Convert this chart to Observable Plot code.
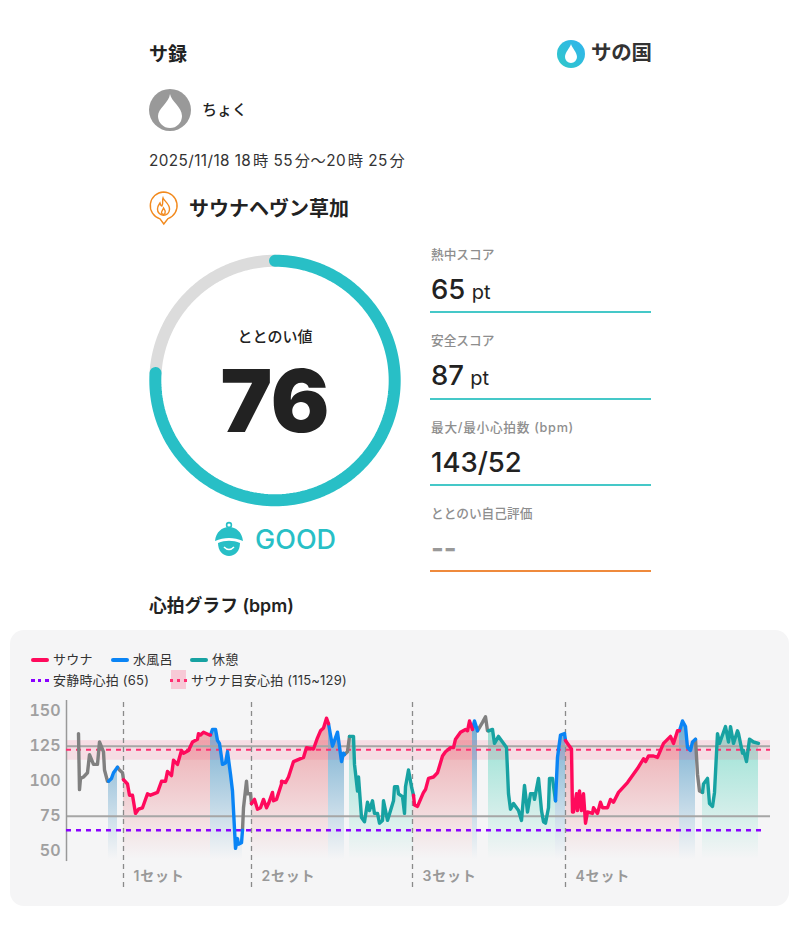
<!DOCTYPE html>
<html lang="ja"><head><meta charset="utf-8">
<script src="https://cdn.jsdelivr.net/npm/d3@7"></script>
<script src="https://cdn.jsdelivr.net/npm/@observablehq/plot@0.6"></script>
<style>
html,body{margin:0;padding:0;background:#fff}
body{width:800px;height:947px;position:relative;overflow:hidden;font-family:Inter,"Noto Sans CJK JP",sans-serif;color:#222}
.a{position:absolute;white-space:nowrap;line-height:1}
.lab{font-size:12.7px;color:#8e8e8e;left:431px;font-weight:500}
.val{left:431px;font-size:27.5px;font-weight:500;color:#222}
.val span{font-size:20px;font-weight:400;margin-left:-1px}
.rule{position:absolute;left:430px;width:221px;height:1.5px;background:#45c8c8}
#card{position:absolute;left:10px;top:630px;width:779px;height:276px;background:#f5f5f6;border-radius:14px}
#chart{position:absolute;left:10px;top:690px}
#gauge{position:absolute;left:139.5px;top:245px}
.leg{font-size:13px;color:#333;letter-spacing:.2px}
.sw{position:absolute;height:4px;border-radius:2px}
.dot{position:absolute;height:0;border-top:3px dotted}
svg{overflow:visible}
.setlab text{letter-spacing:.8px}
.k{margin-left:1.8px}
</style></head><body>
<div class="a" style="left:149px;top:45px;font-size:19px;font-weight:600">サ録</div>
<svg class="a" style="left:557px;top:40px" width="28" height="28" viewBox="0 0 28 28">
<defs><linearGradient id="lg" x1="0" y1="1" x2="1" y2="0"><stop offset="0" stop-color="#2fc8c8"/><stop offset="1" stop-color="#30b4ee"/></linearGradient></defs>
<circle cx="14" cy="14" r="14" fill="url(#lg)"/><path d="M14 4C15 8 20 12 20 17A6 6 0 0 1 8 17C8 12 13 8 14 4Z" fill="#fff"/></svg>
<div class="a" style="left:591px;top:43px;font-size:20.5px;font-weight:600;color:#333;letter-spacing:-.2px">サの国</div>

<svg class="a" style="left:149px;top:89px" width="42" height="42" viewBox="0 0 42 42"><circle cx="21" cy="21" r="21" fill="#999"/><path d="M21 5C22 12 33 18 33 27A12 12 0 0 1 9 27C9 19 20 14 21 5Z" fill="#fff"/></svg>
<div class="a" style="left:202px;top:102px;font-size:15px;font-weight:500">ちょく</div>
<div class="a" style="left:149px;top:153px;font-size:15.3px;color:#333;letter-spacing:.42px">2025/11/18 18<span class="k">時</span> 55<span class="k">分</span>〜20<span class="k">時</span> 25<span class="k">分</span></div>
<svg class="a" style="left:149px;top:191px" width="30" height="36" viewBox="0 0 30 36" fill="none" stroke="#f28a1e" stroke-width="1.4"><path d="M14.5 1A13.7 13.7 0 0 1 19 27.6L14.8 33L11 27.8A13.7 13.7 0 0 1 14.5 1Z"/><path d="M14 7C15 10 21 13 20.5 18.5A6 6 0 0 1 8.5 18C8.5 15 10 13.5 11 12C11.5 14 12 15 13 15C14.5 12.5 13 10 14 7Z"/><path d="M14.500 17C16 19 17 20 16 22.500A2 2 0 0 1 12.500 22C12.500 20 14 19 14.500 17Z"/></svg>
<div class="a" style="left:189px;top:199px;font-size:20px;font-weight:600">サウナヘヴン草加</div>

<div id="gauge"></div>
<svg class="a" style="left:212px;top:521px" width="34" height="36" viewBox="0 0 34 36"><circle cx="17" cy="4" r="2.4" fill="none" stroke="#28bfc6" stroke-width="1.6"/><path d="M3 20C4 11 10 6 17 6C24 6 30 11 31 20C22 16 12 16 3 20Z" fill="#28bfc6"/><path d="M6 22C13 19 21 19 28 22C28 30 23 35 17 35C11 35 6 30 6 22Z" fill="#28bfc6"/><path d="M12 26Q17 31 22 26" fill="none" stroke="#fff" stroke-width="1.6"/></svg>
<div class="a" style="left:255px;top:526px;font-size:27px;font-weight:500;color:#28bfc6">GOOD</div>

<div class="a lab" style="top:249px">熱中スコア</div>
<div class="a val" style="top:276px">65 <span>pt</span></div><div class="rule" style="top:311px"></div>
<div class="a lab" style="top:335px">安全スコア</div>
<div class="a val" style="top:362px">87 <span>pt</span></div><div class="rule" style="top:398px"></div>
<div class="a lab" style="top:422px;letter-spacing:.7px">最大/最小心拍数 (bpm)</div>
<div class="a val" style="top:449px">143/52</div><div class="rule" style="top:484px"></div>
<div class="a lab" style="top:508px">ととのい自己評価</div>
<div class="a val" style="top:535px;color:#999;font-weight:700">--</div><div class="rule" style="top:570px;background:#ef8a3c"></div>

<div class="a" style="left:149px;top:597px;font-size:17.8px;font-weight:600">心拍グラフ (bpm)</div>
<div id="card"></div>
<div class="sw" style="left:31px;top:658px;width:18px;background:#ff0a5c"></div><div class="a leg" style="left:53px;top:653px">サウナ</div>
<div class="sw" style="left:111px;top:658px;width:18px;background:#0a84f5"></div><div class="a leg" style="left:133px;top:653px">水風呂</div>
<div class="sw" style="left:190px;top:658px;width:18px;background:#17a2a2"></div><div class="a leg" style="left:212px;top:653px">休憩</div>
<div class="dot" style="left:31px;top:679px;width:18px;border-color:#8a00ff"></div><div class="a leg" style="left:53px;top:674px">安静時心拍 (65)</div>
<div class="a" style="left:171px;top:670px;width:15px;height:19px;background:#f7c9d6"></div>
<div class="dot" style="left:170px;top:679px;width:17px;border-color:#ff2f72"></div><div class="a leg" style="left:191px;top:674px">サウナ目安心拍 (115~129)</div>
<div id="chart"></div>

<script>
// t = sample number from the start of the recording, bpm = heart rate
const gray1 = [[0,134],[1,94],[2,102],[5,103],[9,106],[11,119],[15,112],[19,112],[21,128],[25,121],[26,108],[29,100],[30,100]];
const water1 = [[30,100],[33,102],[35,106],[39,110]];
const gray2 = [[39,110],[41,108],[44,106],[45,101]];
const sauna1 = [[45,101],[49,98],[51,90],[54,90],[57,77],[60,80],[64,81],[69,91],[72,90],[79,92],[83,100],[87,100],[89,107],[93,104],[95,115],[99,112],[103,122],[105,120],[110,122],[114,128],[119,130],[120,134],[122,133],[125,135],[131,133],[132,133]];
const water2 = [[132,133],[134,137],[137,137],[139,129],[141,127],[144,112],[147,113],[149,121],[152,105],[154,93],[157,52],[159,59],[160,55],[163,56],[164,65]];
const gray3 = [[164,65],[165,81],[168,100],[169,91],[172,91],[173,84]];
const sauna2 = [[173,84],[176,87],[179,80],[182,81],[185,87],[188,81],[190,84],[194,92],[195,86],[198,87],[203,98],[203,100],[207,99],[210,103],[215,114],[225,117],[228,124],[235,123],[239,131],[242,136],[245,138],[248,145],[250,141]];
const water3 = [[250,141],[254,125],[255,127],[259,135],[263,114],[265,120],[266,119]];
const gray4 = [[266,119],[269,121],[271,132]];
const rest1 = [[271,132],[275,132],[276,112],[279,93],[280,103],[283,74],[286,71],[289,85],[291,79],[294,86],[296,77],[299,77],[301,70],[304,72],[305,86],[309,72],[315,86],[316,96],[319,96],[320,91],[324,89],[326,77],[327,96],[330,108],[333,96],[335,90]];
const sauna3 = [[335,90],[336,83],[339,82],[345,92],[347,94],[350,102],[355,103],[359,106],[364,118],[367,121],[372,124],[375,124],[377,130],[382,135],[387,137],[389,136],[391,143],[394,137]];
const water4 = [[394,137],[396,143],[399,136]];
const gray5 = [[399,136],[404,142],[407,146],[409,136],[410,136]];
const rest2 = [[410,136],[414,137],[416,127],[420,132],[424,128],[428,124],[430,91],[432,80],[435,84],[440,79],[443,72],[446,97],[449,78],[452,91],[455,91],[456,87],[460,102],[463,79],[465,71],[467,70],[470,81],[471,102],[474,102],[477,86]];
const water5 = [[477,86],[479,117],[482,133],[486,134],[487,129]];
const sauna4 = [[487,129],[489,127],[493,123],[494,78],[495,78],[498,91],[499,79],[501,93],[503,79],[505,91],[507,70],[509,78],[514,77],[515,81],[519,77],[522,85],[524,81],[529,81],[532,87],[535,85],[540,92],[549,99],[559,109],[565,116],[567,114],[570,118],[575,118],[579,117],[585,127],[592,132],[595,127],[599,136],[601,136]];
const water6 = [[601,136],[604,143],[607,139],[609,124],[612,122],[614,128],[617,130]];
const gray6 = [[617,130],[619,105],[621,93],[624,92]];
const rest3 = [[624,92],[625,98],[629,102],[631,84],[634,82],[636,92],[639,134],[641,127],[644,133],[647,139],[650,128],[652,139],[655,127],[659,136],[660,134],[664,120],[665,122],[668,114],[671,130],[675,128],[680,127]];

const saunaSegs = [sauna1,sauna2,sauna3,sauna4];
const waterSegs = [water1,water2,water3,water4,water5,water6];
const restSegs = [rest1,rest2,rest3];
const graySegs = [gray1,gray2,gray3,gray4,gray5,gray6];
const setStarts = [45,173,334,487];
const setLabels = ["1セット","2セット","3セット","4セット"];
const yTicks = [50,75,100,125,150];
const restingHR = 65, guideLow = 115, guideHigh = 129, guideMid = 122.5;
const xEnd = 692, xStart = -12;
const score = 76;

const row = ([t,bpm]) => ({t,bpm});
const areas = (segs,fill) => segs.map(s => Plot.areaY(s.map(row),{x:"t",y1:42.6,y2:"bpm",fill}));
const lines = (segs,stroke) => segs.map(s => Plot.line(s.map(row),{x:"t",y:"bpm",stroke,strokeWidth:3.4,strokeLinejoin:"round",strokeLinecap:"round"}));

const plot = Plot.plot({
  width:780,height:210,marginLeft:56,marginRight:20,marginTop:10,marginBottom:13,
  style:{background:"transparent",fontFamily:'Inter,"Noto Sans CJK JP",sans-serif',overflow:"visible"},
  x:{domain:[xStart,xEnd],axis:null},
  y:{domain:[24.07,157.64]},
  marks:[
    ...areas(saunaSegs,"url(#gSauna)"),
    ...areas(waterSegs,"url(#gWater)"),
    ...areas(restSegs,"url(#gRest)"),
    Plot.rect([{}],{x1:xStart,x2:xEnd,y1:guideLow,y2:guideHigh,fill:"#ff3c6e",fillOpacity:.13}),
    Plot.ruleY([75,125],{x1:xStart,x2:xEnd,stroke:"#a6a6a6",strokeWidth:2}),
    Plot.ruleX([xStart],{y1:42.6,y2:157.64,stroke:"#999",strokeWidth:1.5}),
    Plot.axisY({ticks:yTicks,tickSize:0,tickPadding:6,label:null,fontSize:16,fontWeight:600,color:"#a0a0a0",tickFormat:d=>d}),
    Plot.ruleX(setStarts,{y1:24.07,y2:157.64,stroke:"#8a8a8a",strokeWidth:1.3,strokeDasharray:"5,4"}),
    Plot.ruleY([guideMid],{x1:xStart,x2:xEnd,stroke:"#ff2f72",strokeWidth:2,strokeDasharray:"5,5"}),
    Plot.ruleY([restingHR],{x1:xStart,x2:687,stroke:"#8a00ff",strokeWidth:2.5,strokeDasharray:"5,5"}),
    ...lines(graySegs,"#808080"),
    ...lines(restSegs,"#17a2a2"),
    ...lines(waterSegs,"#0a84f5"),
    ...lines(saunaSegs,"#ff0a5c"),
    Plot.text(setLabels,{x:(d,i)=>setStarts[i],y:32,text:d=>d,textAnchor:"start",dx:10,fontSize:14,fontWeight:600,fill:"#999",className:"setlab"})
  ]
});
const y = plot.scale("y").apply;
const defs = d3.select(plot).append("defs");
[["gSauna","#e0303c",.42],["gWater","#1478b4",.6],["gRest","#20c8a8",.48]].forEach(([id,c,o])=>{
  const g = defs.append("linearGradient").attr("id",id).attr("gradientUnits","userSpaceOnUse")
    .attr("x1",0).attr("x2",0).attr("y1",y(145)).attr("y2",y(44));
  g.append("stop").attr("offset",0).attr("stop-color",c).attr("stop-opacity",o);
  g.append("stop").attr("offset",1).attr("stop-color",c).attr("stop-opacity",0);
});
document.getElementById("chart").append(plot);

// gauge: percent → point on the ring
const ring = (from,to) => d3.range(from,to+.01,.5).map(p => ({x:Math.sin(p/100*2*Math.PI),y:Math.cos(p/100*2*Math.PI)}));
const gauge = Plot.plot({
  width:270,height:270,margin:0,
  style:{background:"transparent",fontFamily:'Inter,"Noto Sans CJK JP",sans-serif',overflow:"visible"},
  x:{domain:[-134.5/119.7,135.5/119.7],axis:null},
  y:{domain:[-135/119.7,135/119.7],axis:null},
  marks:[
    Plot.line(ring(score,100),{x:"x",y:"y",stroke:"#dcdcdc",strokeWidth:12}),
    Plot.line(ring(0,score),{x:"x",y:"y",stroke:"#28bfc6",strokeWidth:12,strokeLinecap:"round"}),
    Plot.text(["ととのい値"],{x:0,y:.36,text:d=>d,fontSize:15,fontWeight:500,fill:"#222"}),
    Plot.text([String(score)],{x:0,y:-.2,text:d=>d,fontSize:87,fontWeight:900,fill:"#222"})
  ]
});
document.getElementById("gauge").append(gauge);
</script>
</body></html>
